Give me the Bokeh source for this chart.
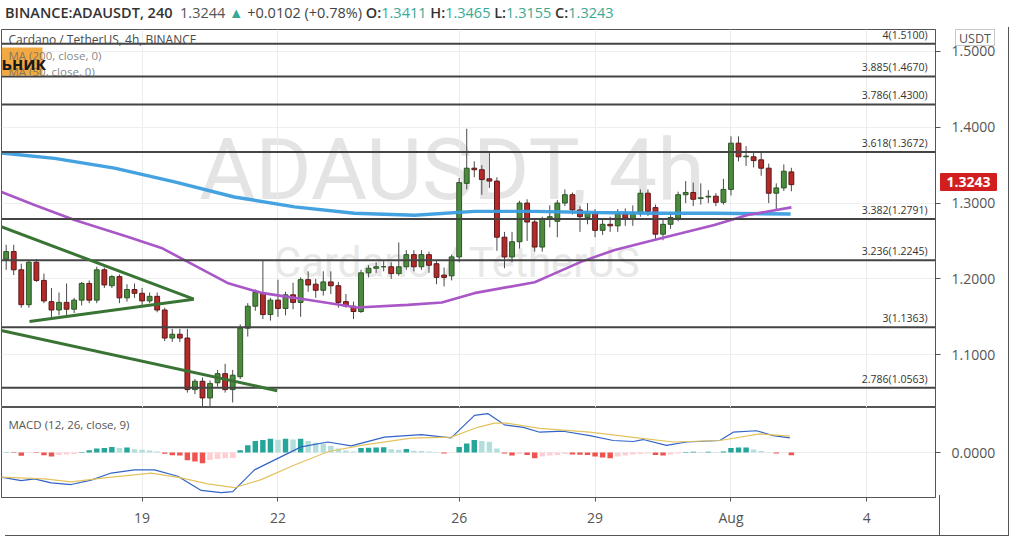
from bokeh.plotting import figure
from bokeh.layouts import column
from bokeh.models import (ColumnDataSource, Range1d, FixedTicker, Label, BoxAnnotation,
                          Div, NumeralTickFormatter)
from bokeh.core.properties import value
from bokeh.embed import file_html
from bokeh.resources import INLINE

FONT = "Open Sans"

# ---------------- data (4h candles from 16 Jul 00:00) ----------------
tick_days = [19, 22, 26, 29, 32, 35]
tick_labels = ["19", "22", "26", "29", "Aug", "4"]
first_day = 16
candles_per_day = 6

opens = [1.226,1.236,1.212,1.166,1.222,1.198,1.170,1.159,1.169,1.160,
         1.172,1.194,1.172,1.212,1.191,1.203,1.175,1.186,1.181,1.171,
         1.177,1.159,1.122,1.127,1.122,1.054,1.065,1.043,1.063,1.075,
         1.054,1.071,1.135,1.164,1.182,1.153,1.172,1.161,1.179,1.169,
         1.199,1.193,1.185,1.196,1.191,1.170,1.164,1.157,1.208,1.214,
         1.216,1.216,1.207,1.216,1.232,1.216,1.232,1.220,1.205,1.204,
         1.229,1.326,1.346,1.344,1.332,1.329,1.255,1.229,1.249,1.300,
         1.275,1.242,1.279,1.276,1.300,1.311,1.291,1.281,1.287,1.264,
         1.272,1.270,1.286,1.279,1.287,1.313,1.294,1.259,1.272,1.280,
         1.311,1.314,1.306,1.308,1.309,1.301,1.318,1.379,1.361,1.361,
         1.357,1.346,1.313,1.320,1.3411]
highs = [1.245,1.245,1.220,1.224,1.226,1.207,1.188,1.182,1.194,1.175,
         1.196,1.198,1.216,1.215,1.205,1.206,1.193,1.194,1.188,1.182,
         1.182,1.162,1.134,1.134,1.134,1.068,1.070,1.066,1.080,1.088,
         1.080,1.140,1.168,1.186,1.225,1.175,1.199,1.183,1.195,1.202,
         1.210,1.200,1.210,1.210,1.196,1.180,1.170,1.212,1.218,1.222,
         1.225,1.222,1.248,1.238,1.238,1.238,1.236,1.224,1.215,1.232,
         1.333,1.398,1.355,1.350,1.3675,1.334,1.262,1.262,1.303,1.305,
         1.280,1.282,1.297,1.304,1.318,1.314,1.296,1.300,1.292,1.278,
         1.282,1.292,1.293,1.297,1.318,1.318,1.298,1.280,1.286,1.315,
         1.329,1.327,1.326,1.317,1.313,1.332,1.388,1.388,1.375,1.368,
         1.366,1.352,1.326,1.351,1.3465]
lows = [1.212,1.205,1.162,1.162,1.196,1.168,1.148,1.152,1.151,1.155,
        1.165,1.168,1.168,1.188,1.188,1.168,1.170,1.175,1.163,1.168,
        1.156,1.118,1.117,1.117,1.050,1.048,1.032,1.032,1.058,1.050,
        1.037,1.068,1.124,1.158,1.147,1.145,1.150,1.152,1.160,1.150,
        1.183,1.175,1.178,1.180,1.162,1.162,1.147,1.155,1.202,1.208,
        1.210,1.200,1.204,1.212,1.210,1.212,1.208,1.193,1.190,1.198,
        1.222,1.318,1.334,1.311,1.320,1.237,1.214,1.222,1.240,1.250,
        1.236,1.236,1.268,1.255,1.296,1.285,1.262,1.272,1.255,1.258,
        1.262,1.262,1.270,1.270,1.282,1.283,1.252,1.251,1.266,1.276,
        1.300,1.296,1.298,1.300,1.296,1.298,1.310,1.355,1.349,1.347,
        1.336,1.300,1.292,1.316,1.3155]
closes = [1.236,1.212,1.166,1.222,1.198,1.171,1.159,1.169,1.160,1.172,
          1.194,1.172,1.212,1.192,1.203,1.175,1.186,1.181,1.171,1.177,
          1.159,1.122,1.127,1.122,1.054,1.065,1.043,1.062,1.075,1.054,
          1.073,1.135,1.164,1.182,1.153,1.172,1.161,1.179,1.169,1.199,
          1.192,1.185,1.196,1.191,1.169,1.164,1.157,1.208,1.214,1.216,
          1.216,1.207,1.216,1.232,1.216,1.232,1.218,1.202,1.202,1.229,
          1.327,1.346,1.344,1.331,1.329,1.255,1.229,1.249,1.300,1.275,
          1.242,1.279,1.282,1.300,1.311,1.291,1.282,1.287,1.264,1.272,
          1.270,1.286,1.280,1.287,1.313,1.289,1.259,1.272,1.281,1.311,
          1.314,1.305,1.307,1.309,1.301,1.318,1.379,1.361,1.362,1.356,
          1.346,1.313,1.320,1.342,1.3243]

ma200_x = [-0.62, 6.4, 14.35, 22.3, 30.2, 38.2, 46.1, 54.1, 62.0, 70.0, 77.9, 85.9, 93.8, 103.9]
ma200_y = [1.366, 1.359, 1.346, 1.328, 1.308, 1.295, 1.2865, 1.284, 1.289, 1.289, 1.2875, 1.2865, 1.2865, 1.2855]

ma50_x = [-0.62, 3.75, 9.05, 16.07, 20.57, 24.0, 29.3, 33.8, 37.3, 39.9, 46.5, 53.2, 57.7,
          62.0, 70.0, 71.7, 76.2, 80.6, 84.9, 89.4, 93.8, 98.2, 104.0]
ma50_y = [1.3145, 1.2974, 1.2776, 1.2557, 1.2408, 1.2228, 1.1947, 1.1816, 1.1763, 1.1724, 1.1622,
          1.1658, 1.1688, 1.1812, 1.1956, 1.2030, 1.2228, 1.2382, 1.2491, 1.2601, 1.2711, 1.2842, 1.2943]

fib_ratio = ["4", "3.885", "3.786", "3.618", "3.382", "3.236", "3", "2.786"]
fib_price = [1.5100, 1.4670, 1.4300, 1.3672, 1.2791, 1.2245, 1.1363, 1.0563]

trend_x0 = [-0.66, 3.09, -0.66]
trend_y0 = [1.2688, 1.1438, 1.1320]
trend_x1 = [24.85, 24.85, 35.9]
trend_y1 = [1.1733, 1.1733, 1.0526]

# MACD values in thousandths
macd_x = [-0.66, 1.99, 3.75, 5.96, 8.61, 11.26, 13.91, 16.99, 19.64, 22.73, 25.83, 28.48, 30.01,
          32.89, 35.97, 39.07, 42.6, 45.7, 50.11, 54.97, 58.94, 62.03, 63.79, 66.0, 68.48, 70.68,
          73.77, 77.3, 80.4, 83.05, 84.37, 87.46, 90.11, 94.52, 96.29, 99.38, 101.59, 103.79]
macd_y = [-20.2, -23.0, -21.6, -24.8, -26.2, -22.6, -16.8, -14.2, -14.2, -19.4, -31.0, -32.8, -32.0,
          -14.2, -4.8, 4.6, 8.6, 5.4, 12.6, 14.6, 12.0, 30.4, 31.8, 22.6, 20.6, 16.6,
          17.4, 13.8, 9.8, 9.0, 10.6, 5.8, 8.6, 9.8, 16.6, 17.8, 13.8, 12.0]
signal_x = [-0.66, 5.07, 8.61, 13.02, 19.21, 23.18, 26.7, 30.24, 33.77, 38.19, 42.6, 47.02,
            53.64, 58.94, 62.46, 64.68, 66.26, 70.68, 77.3, 83.92, 88.34, 94.52, 99.82, 103.79]
signal_y = [-20.2, -21.6, -24.0, -20.8, -16.8, -20.8, -25.6, -28.8, -22.2, -10.2, 0.6, 5.8,
            11.8, 12.6, 20.6, 24.0, 24.0, 19.8, 16.6, 11.8, 8.6, 9.8, 15.2, 13.4]
hist = [0.24, -0.4, -2.64, -0.4, -0.4, -2.16, -3.2, -2.0, -1.6, -1.2,
        0.4, 1.84, 3.2, 3.76, 4.56, 3.76, 4.0, 2.64, 2.16, 1.6,
        0.8, -1.04, -2.16, -2.4, -6.4, -7.44, -8.8, -6.16, -5.36, -4.8,
        -4.4, 1.84, 5.84, 9.36, 10.16, 11.2, 10.4, 11.2, 10.64, 11.2,
        9.36, 8.0, 7.2, 5.6, 3.2, 1.6, 0.8, 3.76, 3.84, 4.0,
        4.24, 2.64, 2.16, 2.96, 1.36, 1.28, 0.8, 0.4, -0.8, -0.24,
        4.56, 7.44, 10.16, 9.36, 8.8, 3.2, -0.8, -2.4, -1.2, -2.0,
        -4.8, -3.2, -2.4, -2.0, -1.2, -1.6, -1.84, -2.0, -3.2, -4.0,
        -4.8, -3.2, -2.4, -1.6, -1.2, -0.8, -2.0, -2.4, -1.6, -0.8,
        0.4, 0.64, 0.48, 0.64, 0.32, 0.8, 3.76, 4.0, 4.16, 2.4,
        1.2, 0.24, -0.8, -0.24, -2.16]

price_ticks = [1.1, 1.2, 1.3, 1.4, 1.5]
last_price = 1.3244
change = 0.0102
change_pct = 0.78

# ---------------- geometry ----------------
x0, x1 = -0.62, 123.09
ybot, ytop = 1.0304, 1.5289
mbot, mtop = -36.8, 36.8
HEADER_H = 18
FW, PH, MH = 934, 378, 90
RB = 69          # right axis strip
XB = 34          # time axis strip
ppx = FW / (x1 - x0)
ppu = PH / (ytop - ybot)
mpu = MH / (mtop - mbot)

n = len(closes)
idx = list(range(n))
tick_idx = [(d - first_day) * candles_per_day for d in tick_days]

GREEN, GREEN_E = "#4c8b3d", "#2d5626"
RED, RED_E = "#b22a2a", "#5e1818"
up = [c >= o for o, c in zip(opens, closes)]
src = ColumnDataSource(dict(
    x=idx, o=opens, h=highs, l=lows, c=closes,
    top=[max(o, c) for o, c in zip(opens, closes)],
    bot=[min(o, c) for o, c in zip(opens, closes)],
    fill=[GREEN if u else RED for u in up],
    edge=[GREEN_E if u else RED_E for u in up],
))

# ---------------- price pane ----------------
p = figure(frame_width=FW, frame_height=PH, x_range=Range1d(x0, x1), y_range=Range1d(ybot, ytop),
           x_axis_location=None, y_axis_location="right", output_backend="svg",
           toolbar_location=None, title=None, min_border_left=1, min_border_right=RB,
           min_border_top=1, min_border_bottom=0)
p.outline_line_color = "#555555"
p.xgrid.ticker = FixedTicker(ticks=tick_idx)
p.xgrid.grid_line_color = "#ececec"
p.ygrid.ticker = FixedTicker(ticks=price_ticks)
p.ygrid.grid_line_color = "#efefef"
ax = p.yaxis[0]
ax.ticker = FixedTicker(ticks=price_ticks)
ax.formatter = NumeralTickFormatter(format="0.0000")
ax.axis_line_color = "#555555"
ax.major_tick_line_color = "#555555"
ax.major_tick_in = 0
ax.major_tick_out = 5
ax.minor_tick_line_color = None
ax.major_label_text_font = FONT
ax.major_label_text_font_size = "14px"
ax.major_label_text_color = "#555555"
ax.major_label_standoff = 11

# watermark
k = PH / 380
p.text(x=[(x0 + x1) / 2 - 2.2], y=[ytop - 141 * k / ppu], text=["ADAUSDT, 4h"],
       text_font=value("Roboto"), text_font_size="86px", text_color="#e4e4e4",
       text_align="center", text_baseline="middle", level="underlay")
p.text(x=[(x0 + x1) / 2 - 1.5], y=[ytop - 234 * k / ppu], text=["Cardano / TetherUS"],
       text_font=value("Roboto"), text_font_size="42px", text_color="#e8e8e8",
       text_align="center", text_baseline="middle", level="underlay")

# candles
p.segment(x0="x", y0="h", x1="x", y1="l", source=src, line_color="#4a4a4a", line_width=1)
p.vbar(x="x", top="top", bottom="bot", width=0.64, source=src, fill_color="fill",
       line_color="edge", line_width=1)

# moving averages
p.line(ma200_x, ma200_y, line_color="#3a9ddf", line_width=3.4, line_alpha=0.95)
p.line(ma50_x, ma50_y, line_color="#a957c6", line_width=2.6)

# fib levels
p.segment(x0=[x0] * len(fib_price), x1=[x1] * len(fib_price), y0=fib_price, y1=fib_price,
          line_color="#444444", line_width=2)
p.text(x=[x1 - 8 / ppx] * len(fib_price), y=fib_price,
       text=[f"{r}({v:.4f})" for r, v in zip(fib_ratio, fib_price)],
       text_font=value(FONT), text_font_size="10.5px", text_color="#333333",
       text_align="right", text_baseline="bottom", y_offset=-2)

# trend lines
p.segment(x0=trend_x0, y0=trend_y0, x1=trend_x1, y1=trend_y1, line_color="#3a7434", line_width=3)

# legends
p.add_layout(BoxAnnotation(left=x0, right=x0 + 41 / ppx, top=ytop - 18 / ppu, bottom=ytop - 46 / ppu,
                           fill_color="#f2a02e", fill_alpha=0.9, line_alpha=0))
p.add_layout(Label(x=x0 + 7 / ppx, y=ytop - 10 / ppu, text="Cardano / TetherUS, 4h, BINANCE",
                   text_font=FONT, text_font_size="12px", text_color="#4a4a4a",
                   text_baseline="middle"))
p.add_layout(Label(x=x0 + 7 / ppx, y=ytop - 26 / ppu, text="MA (200, close, 0)",
                   text_font=FONT, text_font_size="11.5px", text_color="#666666", text_alpha=0.8,
                   text_baseline="middle"))
p.add_layout(Label(x=x0 + 7 / ppx, y=ytop - 42 / ppu, text="MA (50, close, 0)",
                   text_font=FONT, text_font_size="11.5px", text_color="#666666", text_alpha=0.8,
                   text_baseline="middle"))
p.add_layout(Label(x=x0, y=ytop - 34 / ppu, text="ьник", text_font=FONT, text_font_size="17px",
                   text_font_style="bold", text_color="#1a1a1a", text_baseline="middle"))

# ---------------- MACD pane ----------------
m = figure(frame_width=FW, frame_height=MH, x_range=p.x_range, y_range=Range1d(mbot, mtop),
           y_axis_location="right", output_backend="svg", toolbar_location=None, title=None,
           min_border_left=1, min_border_right=RB, min_border_top=0, min_border_bottom=XB)
m.outline_line_color = "#555555"
m.xgrid.ticker = FixedTicker(ticks=tick_idx)
m.xgrid.grid_line_color = "#ececec"
m.ygrid.ticker = FixedTicker(ticks=[0])
m.ygrid.grid_line_color = "#eeeeee"
my = m.yaxis[0]
my.ticker = FixedTicker(ticks=[0])
my.formatter = NumeralTickFormatter(format="0.0000")
my.axis_line_color = "#555555"
my.major_tick_line_color = "#555555"
my.major_tick_in = 0
my.major_tick_out = 5
my.minor_tick_line_color = None
my.major_label_text_font = FONT
my.major_label_text_font_size = "14px"
my.major_label_text_color = "#555555"
my.major_label_standoff = 11
mx = m.xaxis[0]
mx.ticker = FixedTicker(ticks=tick_idx)
mx.major_label_overrides = {t: lab for t, lab in zip(tick_idx, tick_labels)}
mx.axis_line_color = "#555555"
mx.major_tick_line_color = "#555555"
mx.major_tick_in = 0
mx.major_tick_out = 4
mx.minor_tick_line_color = None
mx.major_label_text_font = FONT
mx.major_label_text_font_size = "14px"
mx.major_label_text_color = "#555555"
mx.major_label_standoff = 6

hcol = []
for i, v in enumerate(hist):
    prev = hist[i - 1] if i > 0 else v
    if v >= 0:
        hcol.append("#26a69a" if v >= prev else "#b2dfdb")
    else:
        hcol.append("#ef5350" if v <= prev else "#ffcdd2")
m.vbar(x=idx, top=hist, bottom=0, width=0.72, fill_color=hcol, line_color=None)
m.line(macd_x, macd_y, line_color="#3264c8", line_width=1.2)
m.line(signal_x, signal_y, line_color="#e3c35e", line_width=1.2)
m.add_layout(Label(x=x0 + 7 / ppx, y=mtop - 17 / mpu, text="MACD (12, 26, close, 9)",
                   text_font=FONT, text_font_size="11.5px", text_color="#555555",
                   text_baseline="middle"))

# ---------------- header ----------------
teal = "#3aa993"
o_, h_, l_, c_ = opens[-1], highs[-1], lows[-1], closes[-1]
html = (
    f'<div style="font-family:\'Open Sans\';font-size:14.5px;white-space:nowrap;color:#333;line-height:16px">'
    f'<span style="font-weight:600">BINANCE:ADAUSDT, 240</span>&nbsp; '
    f'<span style="color:#555">{last_price:.4f}</span> '
    f'<span style="color:{teal}">&#9650;</span> '
    f'<span style="color:#444">+{change:.4f} (+{change_pct:.2f}%)</span> '
    f'<span style="font-weight:600">O:</span><span style="color:{teal}">{o_:.4f}</span> '
    f'<span style="font-weight:600">H:</span><span style="color:{teal}">{h_:.4f}</span> '
    f'<span style="font-weight:600">L:</span><span style="color:{teal}">{l_:.4f}</span> '
    f'<span style="font-weight:600">C:</span><span style="color:{teal}">{c_:.4f}</span>'
    f'</div>'
)
header = Div(text=html, width=1004, height=HEADER_H)

# ---------------- overlay: price badge, currency badge, outer borders ----------------
total_h = HEADER_H + (1 + PH) + (MH + XB)
OV_SHIFT = 19                                   # measured offset of the overlay origin
frame_top = HEADER_H + 1                        # relative to layout top
frame_right = 1 + FW                            # relative to layout left
badge_y = frame_top + (ytop - closes[-1]) * ppu
rel = lambda y: y - total_h - OV_SHIFT
ov = (
    '<div style="position:relative;width:0;height:0;">'
    f'<div style="position:absolute;left:{frame_right}px;top:{rel(badge_y) - 9:.1f}px;'
    'width:57px;height:18px;background:#d11f1f;color:#fff;font-family:\'Open Sans\';'
    'font-weight:700;font-size:14px;line-height:18px;text-align:center;border-radius:1px;">'
    f'{closes[-1]:.4f}</div>'
    f'<div style="position:absolute;left:{frame_right + 15}px;top:{rel(frame_top) + 2:.1f}px;'
    'height:17px;padding:0 3px;background:#fff;border:1px solid #c8c8c8;color:#555;'
    'font-family:\'Open Sans\';font-size:12.5px;line-height:17px;">USDT</div>'
    f'<div style="position:absolute;left:{frame_right + RB - 1}px;top:{rel(frame_top):.1f}px;'
    f'width:1px;height:{total_h - frame_top + 6}px;background:#555;"></div>'
    f'<div style="position:absolute;left:{frame_right - 1}px;top:{rel(frame_top + PH + MH):.1f}px;'
    f'width:1px;height:{XB + 7}px;background:#555;"></div>'
    f'<div style="position:absolute;left:0px;top:{rel(total_h + 6):.1f}px;width:{frame_right + RB}px;'
    'height:1px;background:#555;"></div>'
    '</div>'
)
overlay = Div(text=ov, width=1004, height=0, styles={"overflow": "visible", "z-index": "5"})

layout = column(header, p, m, overlay, spacing=0)
open("out.html", "w").write(file_html(layout, INLINE))
